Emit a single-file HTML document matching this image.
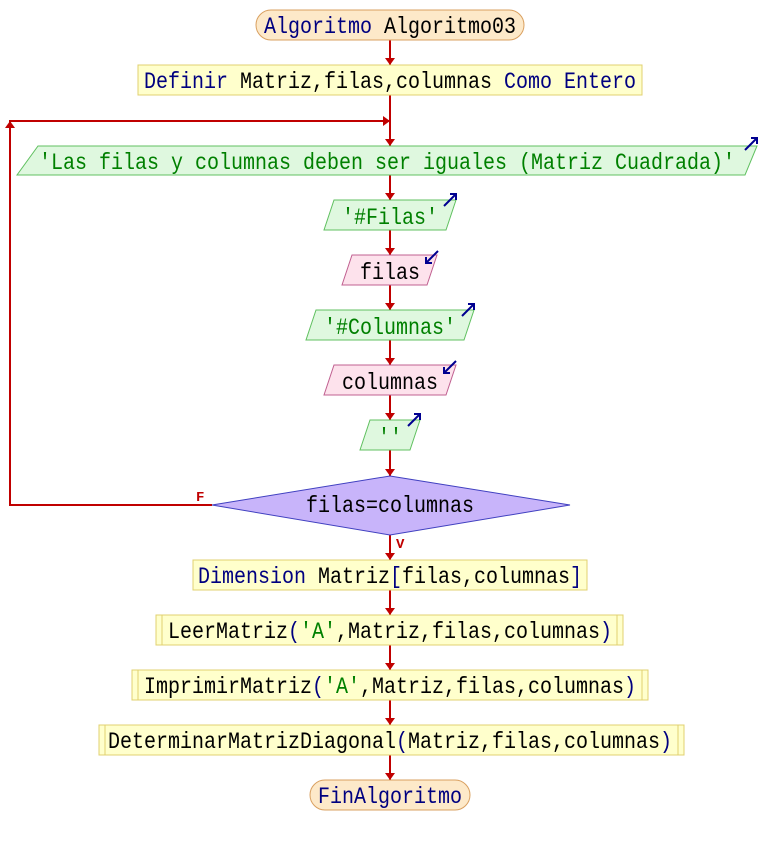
<!DOCTYPE html>
<html><head><meta charset="utf-8"><style>
html,body{margin:0;padding:0;background:#fff;}
text{font-family:"Liberation Mono","DejaVu Sans Mono",monospace;font-size:23px;}
</style></head><body>
<svg width="780" height="845" viewBox="0 0 780 845" xmlns="http://www.w3.org/2000/svg">
<g stroke="#c00000" stroke-width="2" fill="none">
<line x1="390" y1="40" x2="390" y2="65"/>
<line x1="390" y1="95" x2="390" y2="146"/>
<line x1="390" y1="175" x2="390" y2="200"/>
<line x1="390" y1="230" x2="390" y2="255"/>
<line x1="390" y1="285" x2="390" y2="310"/>
<line x1="390" y1="340" x2="390" y2="365"/>
<line x1="390" y1="395" x2="390" y2="420"/>
<line x1="390" y1="450" x2="390" y2="476"/>
<line x1="390" y1="535" x2="390" y2="560"/>
<line x1="390" y1="590" x2="390" y2="615"/>
<line x1="390" y1="645" x2="390" y2="670"/>
<line x1="390" y1="700" x2="390" y2="725"/>
<line x1="390" y1="755" x2="390" y2="780"/>
<polyline points="212,505 10,505 10,121 390,121"/>
</g>
<g fill="#c00000">
<polygon points="385,58 395,58 390,65"/>
<polygon points="385,139 395,139 390,146"/>
<polygon points="385,193 395,193 390,200"/>
<polygon points="385,248 395,248 390,255"/>
<polygon points="385,303 395,303 390,310"/>
<polygon points="385,358 395,358 390,365"/>
<polygon points="385,413 395,413 390,420"/>
<polygon points="385,469 395,469 390,476"/>
<polygon points="385,553 395,553 390,560"/>
<polygon points="385,608 395,608 390,615"/>
<polygon points="385,663 395,663 390,670"/>
<polygon points="385,718 395,718 390,725"/>
<polygon points="385,773 395,773 390,780"/>
<polygon points="383,116 383,126 390,121"/>
<polygon points="5,128 15,128 10,121"/>
</g>
<text x="196" y="501" fill="#c00000" style="font-size:14px;font-weight:bold">F</text>
<text x="396" y="548" fill="#c00000" style="font-size:14px;font-weight:bold">V</text>

<rect x="256" y="10" width="268" height="30" rx="15" fill="#fde9c9" stroke="#d9a060"/>
<text x="390" y="33" text-anchor="middle" textLength="252" lengthAdjust="spacingAndGlyphs" fill="#000080">Algoritmo <tspan fill="#000">Algoritmo03</tspan></text>

<rect x="138" y="65" width="504" height="30" fill="#ffffcc" stroke="#e0d070"/>
<text x="390" y="88" text-anchor="middle" textLength="492" lengthAdjust="spacingAndGlyphs" fill="#000"><tspan fill="#000080">Definir</tspan> Matriz,filas,columnas <tspan fill="#000080">Como Entero</tspan></text>

<g fill="#dff8df" stroke="#60c060">
<polygon points="38,146 757,146 745,175 17,175"/>
<polygon points="334,200 456,200 446,230 324,230"/>
<polygon points="316,310 474,310 464,340 306,340"/>
<polygon points="370,420 420,420 410,450 360,450"/>
</g>
<g fill="#fde2ec" stroke="#c06090">
<polygon points="352,255 437,255 427,285 342,285"/>
<polygon points="334,365 456,365 446,395 324,395"/>
</g>
<g fill="#008000" text-anchor="middle">
<text x="387" y="169" textLength="696" lengthAdjust="spacingAndGlyphs">'Las filas y columnas deben ser iguales (Matriz Cuadrada)'</text>
<text x="390" y="224" textLength="96" lengthAdjust="spacingAndGlyphs">'#Filas'</text>
<text x="390" y="334" textLength="132" lengthAdjust="spacingAndGlyphs">'#Columnas'</text>
<text x="390" y="444" textLength="24" lengthAdjust="spacingAndGlyphs">''</text>
</g>
<g fill="#000" text-anchor="middle">
<text x="390" y="279" textLength="60" lengthAdjust="spacingAndGlyphs">filas</text>
<text x="390" y="389" textLength="96" lengthAdjust="spacingAndGlyphs">columnas</text>
</g>
<g stroke="#000090" stroke-width="2" fill="none">
<path d="M745,150 L757,138 M751,138 L757,138 L757,144"/>
<path d="M444,206 L456,194 M450,194 L456,194 L456,200"/>
<path d="M462,316 L474,304 M468,304 L474,304 L474,310"/>
<path d="M408,426 L420,414 M414,414 L420,414 L420,420"/>
<path d="M426,263 L438,251 M426,257 L426,263 L432,263"/>
<path d="M444,373 L456,361 M444,367 L444,373 L450,373"/>
</g>

<polygon points="390,476 570,505 390,535 212,505" fill="#c8b4fa" stroke="#4040c0"/>
<text x="390" y="512" text-anchor="middle" textLength="168" lengthAdjust="spacingAndGlyphs" fill="#000">filas=columnas</text>

<rect x="193" y="560" width="394" height="30" fill="#ffffcc" stroke="#e0d070"/>
<text x="390" y="583" text-anchor="middle" textLength="384" lengthAdjust="spacingAndGlyphs" fill="#000"><tspan fill="#000080">Dimension</tspan> Matriz<tspan fill="#000080">[</tspan>filas,columnas<tspan fill="#000080">]</tspan></text>

<g fill="#ffffcc" stroke="#e0d070">
<rect x="156" y="615" width="467" height="30"/>
<rect x="132" y="670" width="516" height="30"/>
<rect x="99" y="725" width="585" height="30"/>
</g>
<g stroke="#e0d070">
<line x1="162" y1="615" x2="162" y2="645"/><line x1="617" y1="615" x2="617" y2="645"/>
<line x1="138" y1="670" x2="138" y2="700"/><line x1="642" y1="670" x2="642" y2="700"/>
<line x1="105" y1="725" x2="105" y2="755"/><line x1="678" y1="725" x2="678" y2="755"/>
</g>
<text x="390" y="638" text-anchor="middle" textLength="444" lengthAdjust="spacingAndGlyphs" fill="#000">LeerMatriz<tspan fill="#000080">(</tspan><tspan fill="#008000">'A'</tspan>,Matriz,filas,columnas<tspan fill="#000080">)</tspan></text>
<text x="390" y="693" text-anchor="middle" textLength="492" lengthAdjust="spacingAndGlyphs" fill="#000">ImprimirMatriz<tspan fill="#000080">(</tspan><tspan fill="#008000">'A'</tspan>,Matriz,filas,columnas<tspan fill="#000080">)</tspan></text>
<text x="390" y="748" text-anchor="middle" textLength="564" lengthAdjust="spacingAndGlyphs" fill="#000">DeterminarMatrizDiagonal<tspan fill="#000080">(</tspan>Matriz,filas,columnas<tspan fill="#000080">)</tspan></text>

<rect x="310" y="780" width="160" height="30" rx="15" fill="#fde9c9" stroke="#d9a060"/>
<text x="390" y="803" text-anchor="middle" textLength="144" lengthAdjust="spacingAndGlyphs" fill="#000080">FinAlgoritmo</text>
</svg>
</body></html>
